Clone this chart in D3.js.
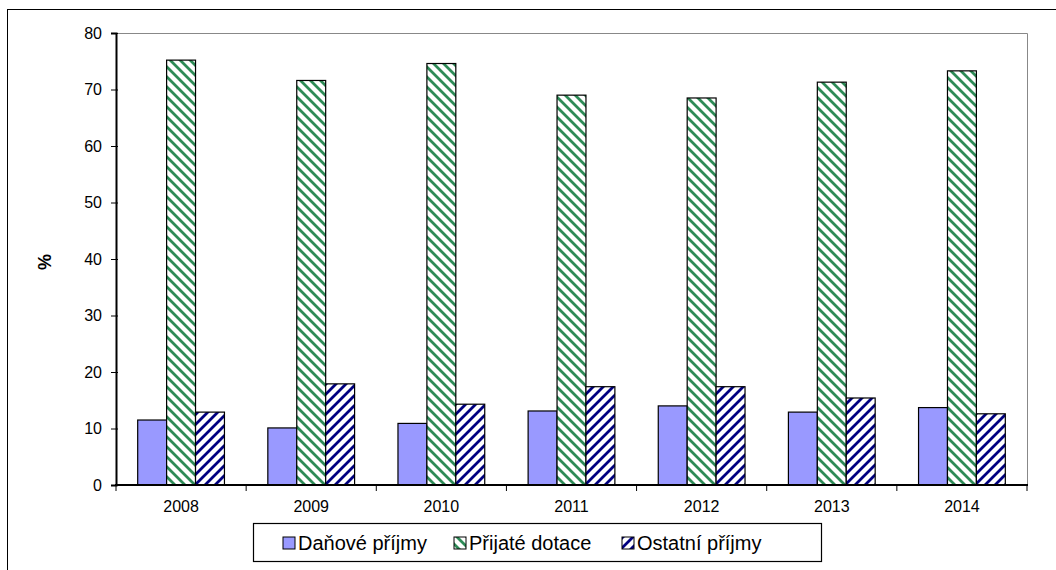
<!DOCTYPE html>
<html><head><meta charset="utf-8">
<script src="https://cdn.jsdelivr.net/npm/d3@7"></script>
<style>body{margin:0;background:#fff}svg{display:block}text{font-family:"Liberation Sans",Arial,sans-serif}</style>
</head><body><svg id="c" width="1056" height="570"></svg>
<script>
const years = ["2008","2009","2010","2011","2012","2013","2014"];
const seriesNames = ["Daňové příjmy","Přijaté dotace","Ostatní příjmy"];
const danove = [11.5,10.1,10.9,13.1,14.0,12.9,13.7];
const dotace = [75.2,71.6,74.6,69.0,68.5,71.3,73.3];
const ostatni = [12.9,17.9,14.3,17.4,17.4,15.4,12.6];
const yTicks = [0,10,20,30,40,50,60,70,80];

const svg = d3.select("#c");
const defs = svg.append("defs");
function stripe(id, color, back){
  const S = 10;
  const p = defs.append("pattern").attr("id",id).attr("patternUnits","userSpaceOnUse")
    .attr("width",S).attr("height",S);
  p.append("rect").attr("width",S).attr("height",S).attr("fill","#fff");
  const d = back
    ? `M-3,-3 L${S+3},${S+3} M-3,${S-3} L3,${S+3} M${S-3},-3 L${S+3},3`
    : `M-3,${S+3} L${S+3},-3 M-3,3 L3,-3 M${S-3},${S+3} L${S+3},${S-3}`;
  p.append("path").attr("d",d).attr("stroke",color).attr("stroke-width",2.8);
}
stripe("pg","#2e8b57",true);
stripe("pb","#000080",false);
const fills = ["#9999ff","url(#pg)","url(#pb)"];

// outer frame
svg.append("rect").attr("x",7.5).attr("y",9.5).attr("width",1100).attr("height",600)
  .attr("fill","none").attr("stroke","#000").attr("stroke-width",1);

const x0 = 116, x1 = 1027, yTop = 33, yBot = 485;
const x = d3.scaleBand().domain(years).range([x0,x1]).paddingInner(1/3).paddingOuter(1/6);
const xs = d3.scaleBand().domain([0,1,2]).range([0,x.bandwidth()]);
const y = d3.scaleLinear().domain([0,80]).range([yBot,yTop]);

// plot area border (top & right)
svg.append("path").attr("d",`M${x0},${yTop+0.5}H${x1+0.5}V${yBot}`).attr("fill","none").attr("stroke","#888").attr("stroke-width",1);

const data = [danove,dotace,ostatni];
years.forEach((yr,i)=>{
  data.forEach((arr,s)=>{
    svg.append("rect").attr("x",x(yr)+xs(s)).attr("y",y(arr[i]))
      .attr("width",xs.bandwidth()).attr("height",yBot-y(arr[i]))
      .attr("fill",fills[s]).attr("stroke","#000").attr("stroke-width",1.2);
  });
});

// y axis
const ya = svg.append("g").attr("transform",`translate(${x0},0)`)
  .call(d3.axisLeft(y).tickValues(yTicks).tickSize(5).tickPadding(9).tickFormat(d3.format("d")));
ya.select(".domain").attr("stroke","#000").attr("stroke-width",2);
ya.selectAll(".tick line").attr("stroke","#000").attr("x2",-5).attr("x1",2);
ya.selectAll("text").attr("font-size",16).attr("fill","#000");

// x axis
const xBoundary = d3.scaleLinear().domain([0,7]).range([x0,x1]);
const xa = svg.append("g").attr("transform",`translate(0,${yBot})`);
xa.append("line").attr("x1",x0-1).attr("x2",x1+1).attr("stroke","#000").attr("stroke-width",2);
d3.range(8).forEach(k=>{
  xa.append("line").attr("x1",xBoundary(k)).attr("x2",xBoundary(k)).attr("y1",0).attr("y2",6).attr("stroke","#000").attr("stroke-width",1);
});
years.forEach(yr=>{
  xa.append("text").attr("x",x(yr)+x.bandwidth()/2).attr("y",27).attr("text-anchor","middle")
    .attr("font-size",16).text(yr);
});

// y title
svg.append("text").attr("transform","translate(51,262) rotate(-90)").attr("text-anchor","middle")
  .attr("font-size",18).attr("font-weight","bold").text("%");

// legend
const lg = svg.append("g");
lg.append("rect").attr("x",253.5).attr("y",523.5).attr("width",568).attr("height",38)
  .attr("fill","#fff").attr("stroke","#000").attr("stroke-width",1.2);
const lx = [283,454,622];
const lfill = ["#9999ff","url(#pg)","url(#pb)"];
seriesNames.forEach((n,i)=>{
  lg.append("rect").attr("x",lx[i]).attr("y",537).attr("width",12).attr("height",12)
    .attr("fill",lfill[i]).attr("stroke","#000").attr("stroke-width",1);
  lg.append("text").attr("x",lx[i]+15).attr("y",550).attr("font-size",20).text(n);
});
</script></body></html>
